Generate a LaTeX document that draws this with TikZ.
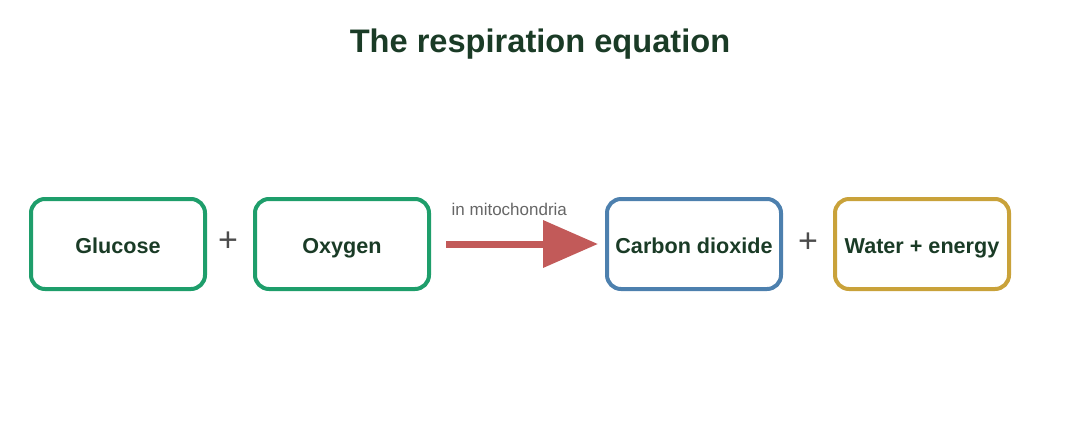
\documentclass[tikz,border=0pt]{standalone}
\usepackage{fontspec}
\setmainfont{Liberation Sans}
\usetikzlibrary{arrows.meta}
\definecolor{leafgreen}{HTML}{1E9E6B}
\definecolor{steelblue}{HTML}{4D80AE}
\definecolor{goldbox}{HTML}{C9A23A}
\definecolor{arrowred}{HTML}{C25A59}
\definecolor{darktext}{HTML}{1A3B26}
\tikzset{x=0.5pt, y=-0.5pt,
  term box/.style={draw, line width=2pt, rounded corners=7pt,
    minimum width=87pt, minimum height=45pt, text=darktext,
    text height=9.6pt, text depth=0.4pt,
    font=\fontsize{10.8}{12}\selectfont\bfseries},
  plus sign/.style={text=black!70, font=\fontsize{17}{18}\selectfont}
}
\begin{document}
\begin{tikzpicture}
\useasboundingbox (0,0) rectangle (1080,440);
\node[text=darktext, font=\fontsize{16.3}{18}\selectfont\bfseries] (title) at (540,44) {The respiration equation};
\node[term box, draw=leafgreen] (glucose) at (118,244) {Glucose};
\node[plus sign] (plusA) at (228,242) {+};
\node[term box, draw=leafgreen] (oxygen) at (342,244) {Oxygen};
\node[term box, draw=steelblue] (carbon) at (694,244) {Carbon dioxide};
\node[plus sign] (plusB) at (808,243) {+};
\node[term box, draw=goldbox] (water) at (922,244) {Water + energy};
% reaction arrow
\draw[arrowred, line width=3.5pt, shorten <=7.5pt, shorten >=3.5pt,
  -{Triangle[length=27.5pt, width=23pt]}] (oxygen) -- (carbon)
  node[pos=0.45, above=9pt, text=black!60, font=\fontsize{8.5}{10}\selectfont] (site) {in mitochondria};
\end{tikzpicture}
\end{document}
